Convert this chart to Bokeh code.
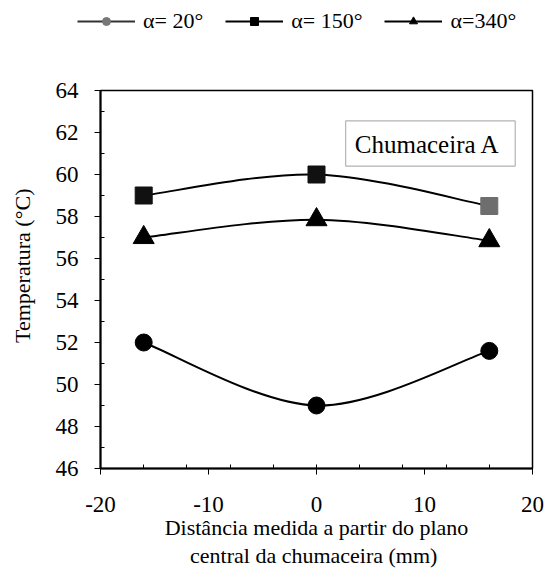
from bokeh.plotting import figure
from bokeh.models import (ColumnDataSource, FixedTicker, Legend, LegendItem,
                          BoxAnnotation, Label, Range1d, LinearAxis)
from bokeh.embed import file_html
from bokeh.resources import INLINE

# ---- data ----
positions = [-16, 0, 16]
t_alpha20 = [52.0, 49.0, 51.6]
t_alpha150 = [59.0, 60.0, 58.5]
t_alpha340 = [57.0, 57.85, 56.85]
square_colors = ["#111111", "#111111", "#6e6e6e"]

labels = ["\u03b1= 20\u00b0", "\u03b1= 150\u00b0", "\u03b1=340\u00b0"]
x_ticks = [-20, -10, 0, 10, 20]
y_ticks = [46, 48, 50, 52, 54, 56, 58, 60, 62, 64]

FONT = "Liberation Serif"


def smooth_segments(xs, ys):
    """Excel-like smoothing: cubic Bezier segments through the data points."""
    n = len(xs)
    seg = dict(x0=[], y0=[], x1=[], y1=[], cx0=[], cy0=[], cx1=[], cy1=[])
    for i in range(n - 1):
        im1 = max(i - 1, 0)
        ip2 = min(i + 2, n - 1)
        seg["x0"].append(xs[i]); seg["y0"].append(ys[i])
        seg["x1"].append(xs[i + 1]); seg["y1"].append(ys[i + 1])
        seg["cx0"].append(xs[i] + (xs[i + 1] - xs[im1]) / 6.0)
        seg["cy0"].append(ys[i] + (ys[i + 1] - ys[im1]) / 6.0)
        seg["cx1"].append(xs[i + 1] - (xs[ip2] - xs[i]) / 6.0)
        seg["cy1"].append(ys[i + 1] - (ys[ip2] - ys[i]) / 6.0)
    return ColumnDataSource(seg)


# ================= main chart =================
p = figure(width=547, height=546, output_backend="svg", toolbar_location=None,
           x_range=Range1d(-20, 20), y_range=Range1d(46, 64),
           min_border_left=100, min_border_right=15, min_border_top=50,
           min_border_bottom=118)
p.grid.visible = False
p.outline_line_color = "black"
p.outline_line_width = 1.5
p.background_fill_color = "white"
p.border_fill_color = "white"

p.xaxis.ticker = FixedTicker(ticks=x_ticks, minor_ticks=[-16, -12, -8, -4, 0, 4, 8, 12, 16])
p.yaxis.ticker = FixedTicker(ticks=y_ticks, minor_ticks=list(range(47, 64, 2)))
p.xaxis.major_label_overrides = {t: str(t) for t in x_ticks}
for ax in (p.xaxis[0], p.yaxis[0]):
    ax.axis_line_color = "black"
    ax.axis_line_width = 2
    ax.major_tick_line_color = "black"
    ax.minor_tick_line_color = "black"
    ax.major_tick_in = 0
    ax.major_tick_out = 6
    ax.minor_tick_in = 4
    ax.minor_tick_out = 0
    ax.major_label_text_font = FONT
    ax.major_label_text_font_size = "23px"
    ax.major_label_text_color = "black"
    ax.axis_label_text_font = FONT
    ax.axis_label_text_font_style = "normal"
    ax.axis_label_text_color = "black"
p.xaxis.major_label_standoff = 22
p.yaxis.major_label_standoff = 16
p.xaxis.axis_label = "Dist\u00e2ncia medida a partir do plano"
p.xaxis.axis_label_text_font_size = "22px"
p.xaxis.axis_label_standoff = 0
p.yaxis.axis_label = "\u00a0" * 5 + "Temperatura (\u00b0C)"
p.yaxis.axis_label_text_font_size = "22px"
p.yaxis.axis_label_standoff = 18

# second line of the x-axis title
x_title2 = LinearAxis(ticker=FixedTicker(ticks=[]), axis_line_color=None,
                      major_tick_out=0, major_tick_in=0, minor_tick_out=0,
                      minor_tick_in=0, major_label_standoff=0,
                      axis_label="central da chumaceira  (mm)",
                      axis_label_standoff=0, axis_label_text_font=FONT,
                      axis_label_text_font_size="22px",
                      axis_label_text_font_style="normal",
                      axis_label_text_color="black")
p.add_layout(x_title2, "below")

# series alpha = 20
src20 = ColumnDataSource(dict(x=positions, y=t_alpha20))
p.bezier(x0="x0", y0="y0", x1="x1", y1="y1", cx0="cx0", cy0="cy0",
         cx1="cx1", cy1="cy1", source=smooth_segments(positions, t_alpha20),
         line_color="black", line_width=2)
p.scatter("x", "y", source=src20, marker="circle", size=17,
          fill_color="black", line_color="black")

# series alpha = 150
src150 = ColumnDataSource(dict(x=positions, y=t_alpha150, c=square_colors))
p.bezier(x0="x0", y0="y0", x1="x1", y1="y1", cx0="cx0", cy0="cy0",
         cx1="cx1", cy1="cy1", source=smooth_segments(positions, t_alpha150),
         line_color="black", line_width=2)
p.scatter("x", "y", source=src150, marker="square", size=17,
          fill_color="c", line_color="c")

# series alpha = 340
src340 = ColumnDataSource(dict(x=positions, y=t_alpha340))
p.bezier(x0="x0", y0="y0", x1="x1", y1="y1", cx0="cx0", cy0="cy0",
         cx1="cx1", cy1="cy1", source=smooth_segments(positions, t_alpha340),
         line_color="black", line_width=2)
p.scatter("x", "y", source=src340, marker="triangle", size=21,
          fill_color="black", line_color="black")

# "Chumaceira A" box
p.add_layout(BoxAnnotation(left=2.7, right=18.4, top=62.55, bottom=60.4,
                           fill_color="white", fill_alpha=1.0,
                           line_color="black", line_width=1.2))
p.add_layout(Label(x=10.55, y=61.45, text="Chumaceira  A", text_font=FONT,
                   text_font_size="25px", text_align="center",
                   text_baseline="middle", text_color="black"))

# ================= legend strip on top =================
lg = figure(width=547, height=40, output_backend="svg", toolbar_location=None,
            x_range=Range1d(0, 1), y_range=Range1d(0, 1),
            x_axis_type=None, y_axis_type=None,
            min_border_left=0, min_border_right=0, min_border_top=0,
            min_border_bottom=0)
lg.grid.visible = False
lg.outline_line_color = None
lg.background_fill_color = "white"
lg.border_fill_color = "white"

# legend-only renderers: same series, outside this strip's (0..1) view
l20 = lg.line(positions, t_alpha20, line_color="#333333", line_width=2)
m20 = lg.scatter(positions, t_alpha20, marker="circle", size=13,
                 fill_color="#777777", line_color="#777777")
l150 = lg.line(positions, t_alpha150, line_color="black", line_width=2)
m150 = lg.scatter(positions, t_alpha150, marker="square", size=12,
                  fill_color="black", line_color="black")
l340 = lg.line(positions, t_alpha340, line_color="black", line_width=2)
m340 = lg.scatter(positions, t_alpha340, marker="triangle", size=14,
                  fill_color="black", line_color="black")

legend = Legend(items=[LegendItem(label=labels[0], renderers=[l20, m20]),
                       LegendItem(label=labels[1], renderers=[l150, m150]),
                       LegendItem(label=labels[2], renderers=[l340, m340])],
                orientation="horizontal", location=(77, 6),
                glyph_width=58, glyph_height=20, label_height=20,
                label_standoff=8, spacing=22, padding=0, margin=0,
                border_line_color=None, background_fill_alpha=0,
                label_text_font=FONT, label_text_font_size="22px",
                label_text_color="black")
lg.add_layout(legend)

open("out.html", "w").write(file_html([lg, p], INLINE))
